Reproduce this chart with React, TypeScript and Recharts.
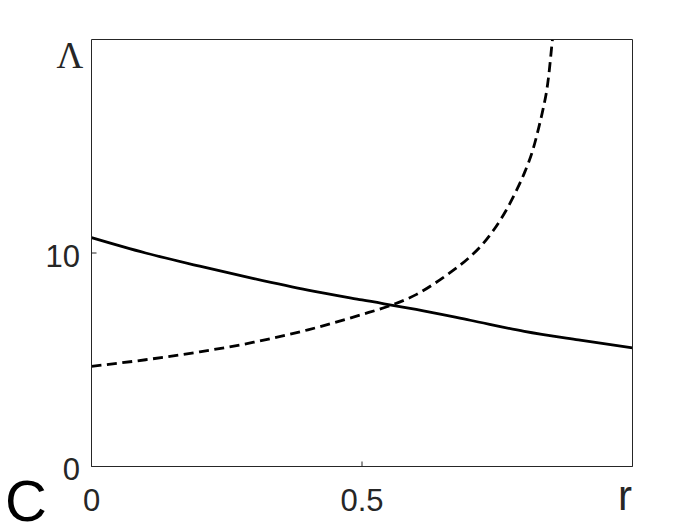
import React from 'react';
import { LineChart, Line, XAxis, YAxis } from 'recharts';

// solid curve
const rSolid = [0, 0.1, 0.2, 0.3, 0.4, 0.5, 0.6, 0.7, 0.8, 0.9, 1.0];
const lambdaSolid = [10.72, 10.0, 9.38, 8.8, 8.26, 7.8, 7.36, 6.85, 6.33, 5.93, 5.56];

// dashed curve (blows up near r ~ 0.85)
const rDashed = [
  0, 0.1, 0.2, 0.3, 0.4, 0.5, 0.55, 0.6, 0.65, 0.7, 0.72, 0.744, 0.766, 0.785, 0.801, 0.8155, 0.826, 0.835, 0.842,
  0.846, 0.85, 0.852,
];
const lambdaDashed = [
  4.69, 5.0, 5.37, 5.82, 6.4, 7.12, 7.52, 8.05, 8.85, 9.83, 10.33, 11.1, 11.98, 12.9, 13.8, 14.8, 15.8, 16.78, 17.71,
  18.5, 19.5, 20,
];

const xTicks = [0, 0.5, 1];
const xTickLabels = ['0', '0.5', ''];
const yTicks = [0, 10];
const yTickLabels = ['0', '10'];

const solidData = rSolid.map((r, i) => ({ r, lambda: lambdaSolid[i] }));
const dashedData = rDashed.map((r, i) => ({ r, lambda: lambdaDashed[i] }));

const AXIS = '#262626';
const TICK_LEN = 5;
const FONT = '"Liberation Sans", Arial, Helvetica, sans-serif';

function LeftTick(props: any) {
  const { x, y, payload } = props;
  const label = yTickLabels[yTicks.indexOf(payload.value)];
  return (
    <g>
      <line x1={x} y1={y} x2={x + TICK_LEN} y2={y} stroke={AXIS} />
      <text x={x - 11.5} y={y + 13.5} textAnchor="end" fontSize={31} fill={AXIS} fontFamily={FONT}>
        {label}
      </text>
    </g>
  );
}

function RightTick(props: any) {
  const { x, y } = props;
  return <line x1={x - TICK_LEN} y1={y} x2={x} y2={y} stroke={AXIS} />;
}

function BottomTick(props: any) {
  const { x, y, payload } = props;
  const label = xTickLabels[xTicks.indexOf(payload.value)];
  return (
    <g>
      <line x1={x} y1={y} x2={x} y2={y - TICK_LEN} stroke={AXIS} />
      <text x={x} y={y + 44.5} textAnchor="middle" fontSize={31} fill={AXIS} fontFamily={FONT}>
        {label}
      </text>
    </g>
  );
}

function TopTick(props: any) {
  const { x, y } = props;
  return <line x1={x} y1={y} x2={x} y2={y + TICK_LEN} stroke={AXIS} />;
}

export default function App() {
  return (
    <div style={{ position: 'absolute', left: 0, top: 0, width: 700, height: 525, background: '#fff' }}>
      <LineChart width={700} height={525} margin={{ top: 0, right: 0, bottom: 0, left: 0 }}>
        <XAxis
          dataKey="r"
          type="number"
          domain={[0, 1]}
          ticks={xTicks}
          interval={0}
          height={58.5}
          tickSize={0}
          tickMargin={0}
          tickLine={false}
          axisLine={{ stroke: AXIS }}
          tick={BottomTick}
          allowDataOverflow
        />
        <XAxis
          xAxisId="top"
          orientation="top"
          type="number"
          domain={[0, 1]}
          ticks={xTicks}
          interval={0}
          height={39.5}
          tickSize={0}
          tickMargin={0}
          tickLine={false}
          axisLine={{ stroke: AXIS }}
          tick={TopTick}
        />
        <YAxis
          type="number"
          domain={[0, 20]}
          ticks={yTicks}
          interval={0}
          width={91.5}
          tickSize={0}
          tickMargin={0}
          tickLine={false}
          axisLine={{ stroke: AXIS }}
          tick={LeftTick}
          allowDataOverflow
        />
        <YAxis
          yAxisId="right"
          orientation="right"
          type="number"
          domain={[0, 20]}
          ticks={yTicks}
          interval={0}
          width={67.5}
          tickSize={0}
          tickMargin={0}
          tickLine={false}
          axisLine={{ stroke: AXIS }}
          tick={RightTick}
        />
        <Line
          data={solidData}
          dataKey="lambda"
          type="monotone"
          stroke="#000"
          strokeWidth={2.8}
          dot={false}
          activeDot={false}
          isAnimationActive={false}
        />
        <Line
          data={dashedData}
          dataKey="lambda"
          type="monotone"
          stroke="#000"
          strokeWidth={2.8}
          strokeDasharray="10 5.5"
          dot={false}
          activeDot={false}
          isAnimationActive={false}
        />
      </LineChart>
      <svg width={700} height={525} style={{ position: 'absolute', left: 0, top: 0, pointerEvents: 'none' }}>
        <text x={70} y={68} textAnchor="middle" fontSize={37} fill={AXIS} fontFamily='"Liberation Serif", "Times New Roman", serif'>
          Λ
        </text>
        <text x={625} y={510} textAnchor="middle" fontSize={42} fill={AXIS} fontFamily={FONT}>
          r
        </text>
        <text x={5} y={521} fontSize={58} fill="#000" fontFamily={FONT}>
          C
        </text>
      </svg>
    </div>
  );
}
